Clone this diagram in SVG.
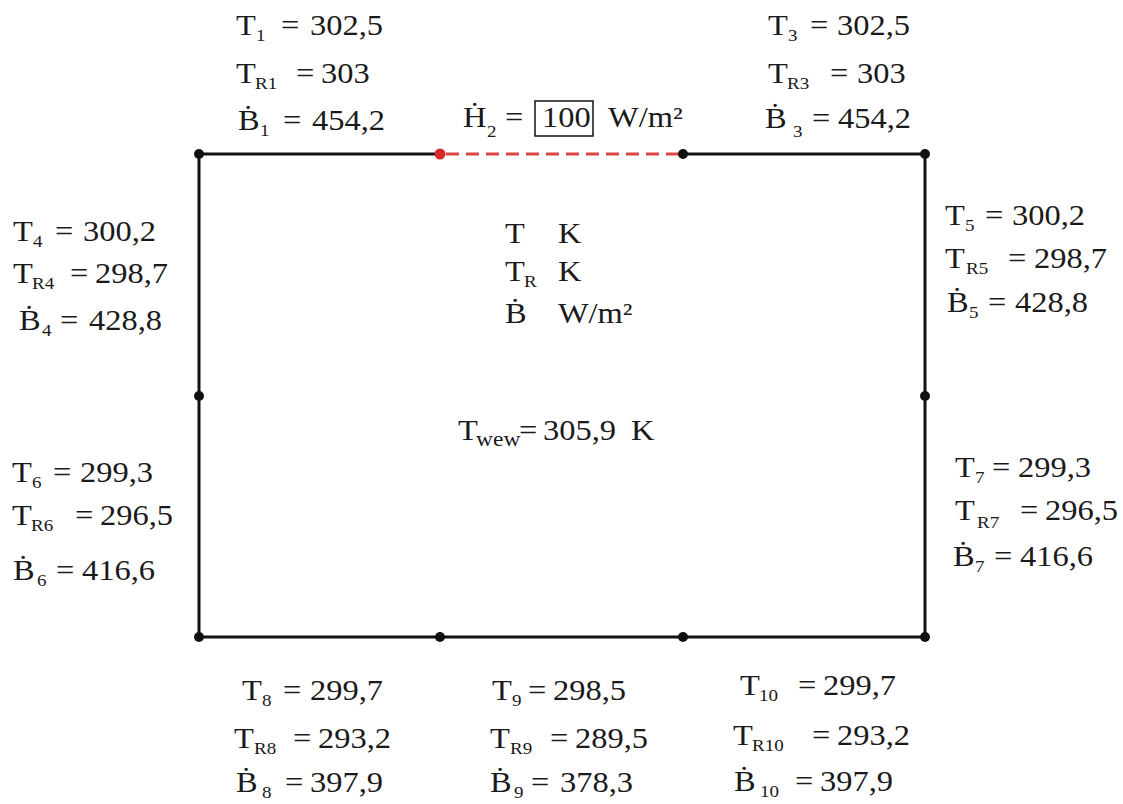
<svg xmlns="http://www.w3.org/2000/svg" width="1123" height="804" viewBox="0 0 1123 804">
<style>
.t text{font-family:"Liberation Serif","Times New Roman",serif;font-size:29px;fill:#1a1a1a}
.t .s{font-size:17px}
.t .w{font-size:21px}
.edge{stroke:#111;stroke-width:3;fill:none}
.hot{stroke:#d44;stroke-width:3;stroke-dasharray:13 7;fill:none}
.n{fill:#111}
.nr{fill:#d42a2a}
.box{fill:none;stroke:#111;stroke-width:1.5}
</style>
<rect width="1123" height="804" fill="#fff"/>
<g id="connectors">
<line class="edge" x1="199" y1="154" x2="440" y2="154"/>
<line class="hot" x1="446" y1="154" x2="683" y2="154"/>
<line class="edge" x1="683" y1="154" x2="925" y2="154"/>
<line class="edge" x1="925" y1="154" x2="925" y2="396"/>
<line class="edge" x1="925" y1="396" x2="925" y2="637"/>
<line class="edge" x1="925" y1="637" x2="683" y2="637"/>
<line class="edge" x1="683" y1="637" x2="440" y2="637"/>
<line class="edge" x1="440" y1="637" x2="199" y2="637"/>
<line class="edge" x1="199" y1="637" x2="199" y2="396"/>
<line class="edge" x1="199" y1="396" x2="199" y2="154"/>
</g>
<g id="node1"><circle class="n" cx="199" cy="154" r="5"/></g>
<g id="node2"><circle class="nr" cx="440" cy="154" r="5.5"/></g>
<g id="node3"><circle class="n" cx="683" cy="154" r="5"/></g>
<g id="node3b"><circle class="n" cx="925" cy="154" r="5"/></g>
<g id="node4"><circle class="n" cx="199" cy="396" r="5"/></g>
<g id="node5"><circle class="n" cx="925" cy="396" r="5"/></g>
<g id="node8"><circle class="n" cx="199" cy="637" r="5"/></g>
<g id="node9"><circle class="n" cx="440" cy="637" r="5"/></g>
<g id="node10"><circle class="n" cx="683" cy="637" r="5"/></g>
<g id="node10b"><circle class="n" cx="925" cy="637" r="5"/></g>
<rect id="box100" class="box" x="535" y="101" width="58" height="35"/>

<g class="t" transform="scale(1.12 1)">
<g id="label1">
<text y="35"><tspan x="210.7">T</tspan><tspan class="s" x="228.6" dy="6">1</tspan><tspan x="250.9" dy="-6">=</tspan><tspan x="276.8">302,5</tspan></text>
<text y="83"><tspan x="210.7">T</tspan><tspan class="s" x="227.7" dy="6">R1</tspan><tspan x="264.3" dy="-6">=</tspan><tspan x="286.6">303</tspan></text>
<text y="130"><tspan x="212.5">Ḃ</tspan><tspan class="s" x="232.1" dy="6">1</tspan><tspan x="252.7" dy="-6">=</tspan><tspan x="278.6">454,2</tspan></text>
</g>
<g id="label2">
<text y="127"><tspan x="413.4">Ḣ</tspan><tspan class="s" x="434.8" dy="10">2</tspan><tspan x="450.9" dy="-10">=</tspan><tspan x="483.9">100</tspan><tspan x="542.9">W/m²</tspan></text>
</g>
<g id="label3">
<text y="35"><tspan x="685.7">T</tspan><tspan class="s" x="703.6" dy="6">3</tspan><tspan x="723.2" dy="-6">=</tspan><tspan x="747.3">302,5</tspan></text>
<text y="83"><tspan x="685.7">T</tspan><tspan class="s" x="702.7" dy="6">R3</tspan><tspan x="741.1" dy="-6">=</tspan><tspan x="765.2">303</tspan></text>
<text y="128"><tspan x="683">Ḃ</tspan><tspan class="s" x="708" dy="9">3</tspan><tspan x="725" dy="-9">=</tspan><tspan x="748.2">454,2</tspan></text>
</g>
<g id="label4">
<text y="241"><tspan x="11.6">T</tspan><tspan class="s" x="29.5" dy="6">4</tspan><tspan x="49.1" dy="-6">=</tspan><tspan x="74.1">300,2</tspan></text>
<text y="283"><tspan x="11.6">T</tspan><tspan class="s" x="28.6" dy="6">R4</tspan><tspan x="62.5" dy="-6">=</tspan><tspan x="84.8">298,7</tspan></text>
<text y="330"><tspan x="17">Ḃ</tspan><tspan class="s" x="37.5" dy="6">4</tspan><tspan x="53.6" dy="-6">=</tspan><tspan x="79.5">428,8</tspan></text>
</g>
<g id="label5">
<text y="225"><tspan x="843.8">T</tspan><tspan class="s" x="861.6" dy="6">5</tspan><tspan x="879.5" dy="-6">=</tspan><tspan x="903.6">300,2</tspan></text>
<text y="268"><tspan x="843.8">T</tspan><tspan class="s" x="862.5" dy="6">R5</tspan><tspan x="900" dy="-6">=</tspan><tspan x="923.2">298,7</tspan></text>
<text y="312"><tspan x="845.5">Ḃ</tspan><tspan class="s" x="865.2" dy="6">5</tspan><tspan x="882.1" dy="-6">=</tspan><tspan x="906.3">428,8</tspan></text>
</g>
<g id="label6">
<text y="482"><tspan x="10.7">T</tspan><tspan class="s" x="28.6" dy="6">6</tspan><tspan x="47.3" dy="-6">=</tspan><tspan x="71.4">299,3</tspan></text>
<text y="525"><tspan x="10.7">T</tspan><tspan class="s" x="27.7" dy="6">R6</tspan><tspan x="67" dy="-6">=</tspan><tspan x="89.3">296,5</tspan></text>
<text y="580"><tspan x="11.6">Ḃ</tspan><tspan class="s" x="33" dy="6">6</tspan><tspan x="50" dy="-6">=</tspan><tspan x="73.2">416,6</tspan></text>
</g>
<g id="label7">
<text y="477"><tspan x="852.7">T</tspan><tspan class="s" x="870.5" dy="6">7</tspan><tspan x="885.7" dy="-6">=</tspan><tspan x="908.9">299,3</tspan></text>
<text y="520"><tspan x="852.7">T</tspan><tspan class="s" x="872.3" dy="8">R7</tspan><tspan x="910.7" dy="-8">=</tspan><tspan x="933">296,5</tspan></text>
<text y="566"><tspan x="850.9">Ḃ</tspan><tspan class="s" x="870.5" dy="6">7</tspan><tspan x="887.5" dy="-6">=</tspan><tspan x="910.7">416,6</tspan></text>
</g>
<g id="label8">
<text y="700"><tspan x="216.1">T</tspan><tspan class="s" x="233.9" dy="6">8</tspan><tspan x="252.7" dy="-6">=</tspan><tspan x="276.8">299,7</tspan></text>
<text y="748"><tspan x="208.9">T</tspan><tspan class="s" x="226.8" dy="6">R8</tspan><tspan x="261.6" dy="-6">=</tspan><tspan x="283.9">293,2</tspan></text>
<text y="792"><tspan x="210.7">Ḃ</tspan><tspan class="s" x="233.9" dy="6">8</tspan><tspan x="254.5" dy="-6">=</tspan><tspan x="276.8">397,9</tspan></text>
</g>
<g id="label9">
<text y="700"><tspan x="439.3">T</tspan><tspan class="s" x="457.1" dy="6">9</tspan><tspan x="471.4" dy="-6">=</tspan><tspan x="493.8">298,5</tspan></text>
<text y="748"><tspan x="437.5">T</tspan><tspan class="s" x="455.4" dy="6">R9</tspan><tspan x="491.1" dy="-6">=</tspan><tspan x="513.4">289,5</tspan></text>
<text y="792"><tspan x="437.5">Ḃ</tspan><tspan class="s" x="458.9" dy="6">9</tspan><tspan x="474.1" dy="-6">=</tspan><tspan x="500">378,3</tspan></text>
</g>
<g id="label10">
<text y="695"><tspan x="660.7">T</tspan><tspan class="s" x="677.7" dy="6">10</tspan><tspan x="712.5" dy="-6">=</tspan><tspan x="734.8">299,7</tspan></text>
<text y="745"><tspan x="654.5">T</tspan><tspan class="s" x="671.4" dy="6">R10</tspan><tspan x="725" dy="-6">=</tspan><tspan x="747.3">293,2</tspan></text>
<text y="791"><tspan x="655.4">Ḃ</tspan><tspan class="s" x="678.6" dy="6">10</tspan><tspan x="709.8" dy="-6">=</tspan><tspan x="732.1">397,9</tspan></text>
</g>
<g id="legend">
<text y="243"><tspan x="450.9">T</tspan><tspan x="498.2">K</tspan></text>
<text y="281"><tspan x="450.9">T</tspan><tspan class="s" x="467.9" dy="6">R</tspan><tspan x="498.2" dy="-6">K</tspan></text>
<text y="323"><tspan x="450.9">Ḃ</tspan><tspan x="498.2">W/m²</tspan></text>
</g>
<g id="wall">
<text y="440"><tspan x="408.9">T</tspan><tspan class="w" x="425" dy="6">wew</tspan><tspan x="463.4" dy="-6">=</tspan><tspan x="484.8">305,9</tspan><tspan x="563.4">K</tspan></text>
</g>
</g>
</svg>
